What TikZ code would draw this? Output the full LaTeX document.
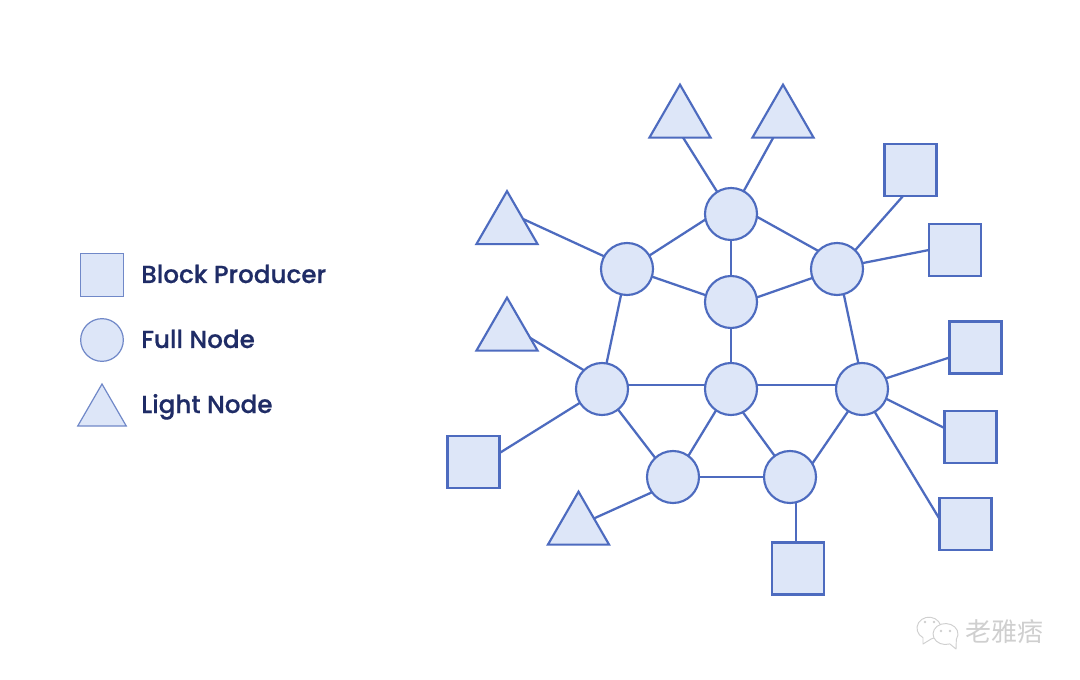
\documentclass[tikz,border=0pt]{standalone}
\usepackage{fontspec}
\setmainfont{Poppins}[BoldFont={Poppins Medium},BoldFeatures={FakeBold=0.5}]
\newfontfamily\cjkfont{Noto Sans CJK SC}
\usepackage{xcolor}
\usetikzlibrary{shapes.geometric}
\definecolor{NetBlue}{HTML}{4D6BBF}
\definecolor{NetFill}{HTML}{DDE6F8}
\definecolor{KeyBlue}{HTML}{7088C8}
\definecolor{KeyInk}{HTML}{1F2C66}
\definecolor{MarkGray}{HTML}{CFCFCF}

\begin{document}
\begin{tikzpicture}[
  x=0.75pt, y=-0.75pt,
  full/.style={circle, draw=NetBlue, fill=NetFill, line width=1.6pt,
               minimum size=39pt, inner sep=0pt, outer sep=0pt},
  producer/.style={rectangle, draw=NetBlue, fill=NetFill, line width=1.6pt,
                   minimum size=39pt, inner sep=0pt, outer sep=0pt},
  lightnode/.style={regular polygon, regular polygon sides=3, draw=NetBlue,
                    fill=NetFill, line width=1.6pt, minimum size=53pt,
                    inner sep=0pt, outer sep=0pt},
  keyfull/.style={full, draw=KeyBlue, line width=0.9pt, minimum size=32pt},
  keyproducer/.style={producer, draw=KeyBlue, line width=0.9pt, minimum size=32pt},
  keylight/.style={lightnode, draw=KeyBlue, line width=0.9pt, minimum size=42pt},
  keytext/.style={anchor=base west, text=KeyInk, font=\fontsize{18.5}{20}\selectfont\bfseries,
                  inner sep=0pt},
  link/.style={draw=NetBlue, line width=1.7pt},
  bubble/.style={draw=MarkGray, line width=0.7pt, fill=white, line join=round},
  eye/.style={fill=MarkGray, draw=none}
]
\useasboundingbox[fill=white] (0,0) rectangle (1080,680);

% legend
\node[keyproducer] (kp) at (102,275) {};
\node[keyfull] (kf) at (102,340) {};
\node[keylight] (kl) at (102,412) {};
\node[keytext] (kpt) at (141,283) {Block Producer};
\node[keytext] (kft) at (141,348) {Full Node};
\node[keytext] (klt) at (141,413) {Light Node};

% full nodes
\node[full] (f1) at (731,214) {};
\node[full] (f2) at (627,269) {};
\node[full] (f3) at (837,269) {};
\node[full] (f4) at (731,302) {};
\node[full] (f5) at (602,389) {};
\node[full] (f6) at (731,389) {};
\node[full] (f7) at (862,389) {};
\node[full] (f8) at (673,477) {};
\node[full] (f9) at (790,477) {};

% light nodes
\node[lightnode] (t1) at (680,120) {};
\node[lightnode] (t2) at (783,120) {};
\node[lightnode] (t3) at (507,226.5) {};
\node[lightnode] (t4) at (507,333) {};
\node[lightnode] (t5) at (578.5,527) {};

% block producers
\node[producer] (s1) at (910.5,170) {};
\node[producer] (s2) at (955,250) {};
\node[producer] (s3) at (975.5,347.5) {};
\node[producer] (s4) at (970.5,437) {};
\node[producer] (s5) at (965.5,524) {};
\node[producer] (s6) at (798,568.5) {};
\node[producer] (s7) at (473.5,462) {};

\draw[link] (f1.192) -- (f2.31);
\draw[link] (f1.-6) -- (f3.136);
\draw[link] (f1.south) -- (f4.north);
\draw[link] (f2.-17) -- (f4.165);
\draw[link] (f3.200) -- (f4.10);
\draw[link] (f2.257) -- (f5.80);
\draw[link] (f3.-75) -- (f7.98);
\draw[link] (f4.south) -- (f6.north);
\draw[link] (f5.9) -- (f6.171);
\draw[link] (f6.9) -- (f7.171);
\draw[link] (f5.-52) -- (f8.133);
\draw[link] (f6.235) -- (f8.54);
\draw[link] (f6.-63) -- (f9.126);
\draw[link] (f7.-122) -- (f9.31);
\draw[link] (f8.east) -- (f9.west);
\draw[link] (t1.-80) -- (f1.122);
\draw[link] (t2.-119) -- (f1.61);
\draw[link] (t3.25) -- (f2.151);
\draw[link] (t4.-12) -- (f5.134);
\draw[link] (t5.29) -- (f8.216);
\draw[link] (s1.254) -- (f3.46);
\draw[link] (s2.west) -- (f3.13);
\draw[link] (s3.201) -- (f7.24);
\draw[link] (s4.161) -- (f7.-22);
\draw[link] (s5.169) -- (f7.-61);
\draw[link] (f9.-77) -- (f9.-77 |- s6.north);
\draw[link] (s7.19) -- (f5.212);

% watermark
\draw[bubble] (923,644) -- (923,637.7) arc[start angle=120, end angle=440, x radius=12, y radius=11] -- cycle;
\draw[bubble] (956,649) -- (949.8,643.9) arc[start angle=70, end angle=390, x radius=12.5, y radius=10.5] -- cycle;
\fill[eye] (925,622) circle (1.4);
\fill[eye] (934,622) circle (1.4);
\fill[eye] (941,631) circle (1.4);
\fill[eye] (950,631) circle (1.4);
\node[anchor=base west, text=MarkGray, font=\cjkfont\fontsize{19.5}{22}\selectfont, inner sep=0pt] (wm) at (965,641) {老雅痞};
\end{tikzpicture}
\end{document}
